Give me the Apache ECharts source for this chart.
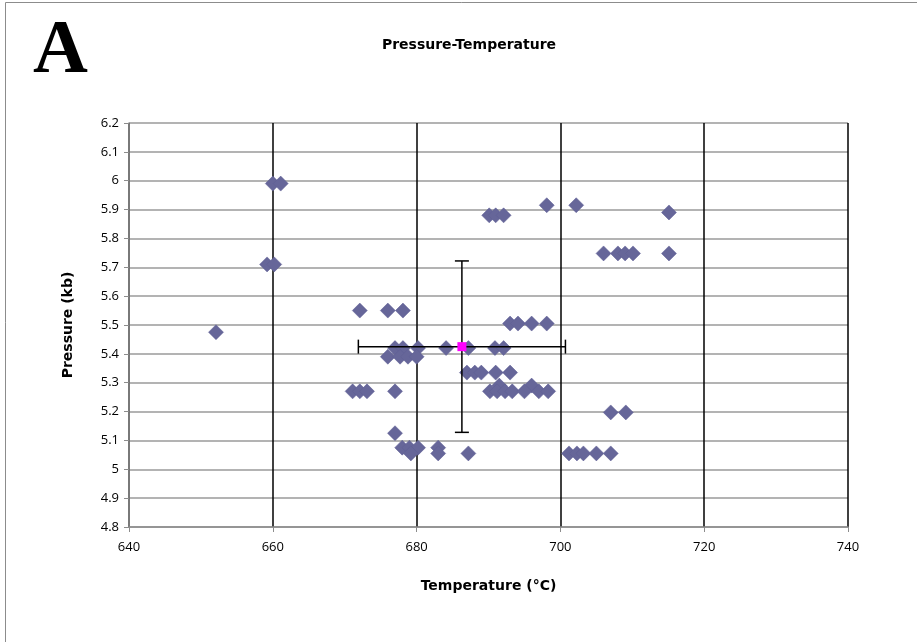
<!DOCTYPE html>
<html>
<head>
<meta charset="utf-8">
<script src="https://cdn.jsdelivr.net/npm/echarts@6/dist/echarts.min.js"></script>
<style>
html, body { margin: 0; padding: 0; background: #fff; }
#chart { width: 917px; height: 642px; }
</style>
</head>
<body>
<div id="chart"></div>
<script>
// sample temperatures (°C) and pressures (kb)
const tempC = [
  660.0, 661.1, 659.2, 660.2, 652.1,
  672.1, 676.0, 678.1,
  693.0, 694.1, 696.0, 698.1,
  677.0, 678.1, 680.2, 676.0, 677.7, 678.8, 680.0,
  684.1, 687.2, 690.9, 692.1,
  687.0, 688.1, 689.0, 691.0, 693.0,
  671.1, 672.1, 673.1, 677.0,
  691.5, 696.0,
  690.2, 691.2, 692.3, 693.3, 695.0, 697.0, 698.3,
  677.0, 678.0, 679.0, 680.2, 679.2, 683.0, 683.0, 687.2,
  701.2, 702.3, 703.2, 705.0, 707.0,
  707.0, 709.1,
  698.1, 702.2, 715.1, 690.1, 691.0, 692.1,
  706.0, 708.0, 709.0, 710.1, 715.1
]
const pressureKb = [
  5.99, 5.99, 5.71, 5.71, 5.475,
  5.55, 5.55, 5.55,
  5.505, 5.505, 5.505, 5.505,
  5.42, 5.42, 5.42, 5.39, 5.39, 5.39, 5.39,
  5.42, 5.42, 5.42, 5.42,
  5.335, 5.335, 5.335, 5.335, 5.335,
  5.27, 5.27, 5.27, 5.27,
  5.29, 5.29,
  5.27, 5.27, 5.27, 5.27, 5.27, 5.27, 5.27,
  5.125, 5.075, 5.075, 5.075, 5.055, 5.075, 5.055, 5.055,
  5.055, 5.055, 5.055, 5.055, 5.055,
  5.197, 5.197,
  5.915, 5.915, 5.89, 5.88, 5.88, 5.88,
  5.748, 5.748, 5.748, 5.748, 5.748
]
// mean with error bars
const meanPoint = [686.3, 5.425]
const meanErrT = 14.4
const meanErrP = 0.297

const xTicks = { min: 640, max: 740, step: 20 }
const yTicks = { min: 4.8, max: 6.2, step: 0.1 }

const chart = echarts.init(document.getElementById('chart'))
const font = '"Open Sans", "Liberation Sans", sans-serif'
const boldFont = '"DejaVu Sans", sans-serif'

const option = {
  backgroundColor: '#fff',
  animation: false,
  title: {
    text: 'Pressure-Temperature',
    left: 464,
    top: 33,
    textAlign: 'center',
    textStyle: { fontFamily: boldFont, fontSize: 14, fontWeight: 'bold', color: '#000' }
  },
  graphic: [
    {
      type: 'rect',
      shape: { x: 5.5, y: 2.5, width: 1000, height: 1000 },
      style: { fill: 'none', stroke: '#8c8c8c', lineWidth: 1 },
      silent: true
    },
    {
      type: 'text',
      left: 33,
      top: 14,
      style: {
        text: 'A',
        font: 'bold 76px "Liberation Serif", "DejaVu Serif", serif',
        fill: '#000'
      }
    }
  ],
  grid: { left: 129, right: 69, top: 123, bottom: 115 },
  xAxis: {
    type: 'value',
    min: xTicks.min,
    max: xTicks.max,
    interval: xTicks.step,
    name: 'Temperature (°C)',
    nameLocation: 'middle',
    nameGap: 52,
    nameTextStyle: { fontFamily: boldFont, fontSize: 14, fontWeight: 'bold', color: '#000' },
    axisLine: { onZero: false, lineStyle: { color: '#8c8c8c', width: 1.5 } },
    axisTick: { show: true, length: 5, lineStyle: { color: '#8c8c8c' } },
    axisLabel: { fontFamily: font, fontSize: 13, color: '#000', margin: 14 },
    splitLine: { show: true, lineStyle: { color: '#000', width: 1.5 } }
  },
  yAxis: {
    type: 'value',
    min: yTicks.min,
    max: yTicks.max,
    interval: yTicks.step,
    name: 'Pressure (kb)',
    nameLocation: 'middle',
    nameGap: 54,
    nameTextStyle: { fontFamily: boldFont, fontSize: 14, fontWeight: 'bold', color: '#000' },
    axisLine: { show: true, onZero: false, lineStyle: { color: '#8c8c8c', width: 1.5 } },
    axisTick: { show: true, length: 5, lineStyle: { color: '#8c8c8c' } },
    axisLabel: {
      fontFamily: font, fontSize: 13, color: '#000', margin: 10,
      formatter: v => String(Math.round(v * 10) / 10)
    },
    splitLine: { show: true, lineStyle: { color: '#9a9a9a', width: 1.5 } }
  },
  series: [
    {
      type: 'scatter',
      symbol: 'diamond',
      symbolSize: 15,
      itemStyle: { color: '#666699', borderColor: '#5f5f94', borderWidth: 0.5, opacity: 1 },
      data: tempC.map((t, i) => [t, pressureKb[i]]),
      z: 3
    },
    {
      type: 'custom',
      data: [[meanPoint[0], meanPoint[1], meanErrT, meanErrP]],
      z: 4,
      renderItem: function (params, api) {
        const x = api.value(0)
        const y = api.value(1)
        const dx = api.value(2)
        const dy = api.value(3)
        const c = api.coord([x, y])
        const l = api.coord([x - dx, y])
        const r = api.coord([x + dx, y])
        const t = api.coord([x, y + dy])
        const b = api.coord([x, y - dy])
        const cap = 7
        const st = { stroke: '#000', lineWidth: 1.5 }
        return {
          type: 'group',
          children: [
            { type: 'line', shape: { x1: l[0], y1: c[1], x2: r[0], y2: c[1] }, style: st },
            { type: 'line', shape: { x1: l[0], y1: c[1] - cap, x2: l[0], y2: c[1] + cap }, style: st },
            { type: 'line', shape: { x1: r[0], y1: c[1] - cap, x2: r[0], y2: c[1] + cap }, style: st },
            { type: 'line', shape: { x1: c[0], y1: t[1], x2: c[0], y2: b[1] }, style: st },
            { type: 'line', shape: { x1: c[0] - cap, y1: t[1], x2: c[0] + cap, y2: t[1] }, style: st },
            { type: 'line', shape: { x1: c[0] - cap, y1: b[1], x2: c[0] + cap, y2: b[1] }, style: st }
          ]
        }
      }
    },
    {
      type: 'scatter',
      symbol: 'rect',
      symbolSize: 9,
      itemStyle: { color: '#ff00ff', opacity: 1 },
      data: [meanPoint],
      z: 5
    }
  ]
}

chart.setOption(option)
</script>
</body>
</html>
